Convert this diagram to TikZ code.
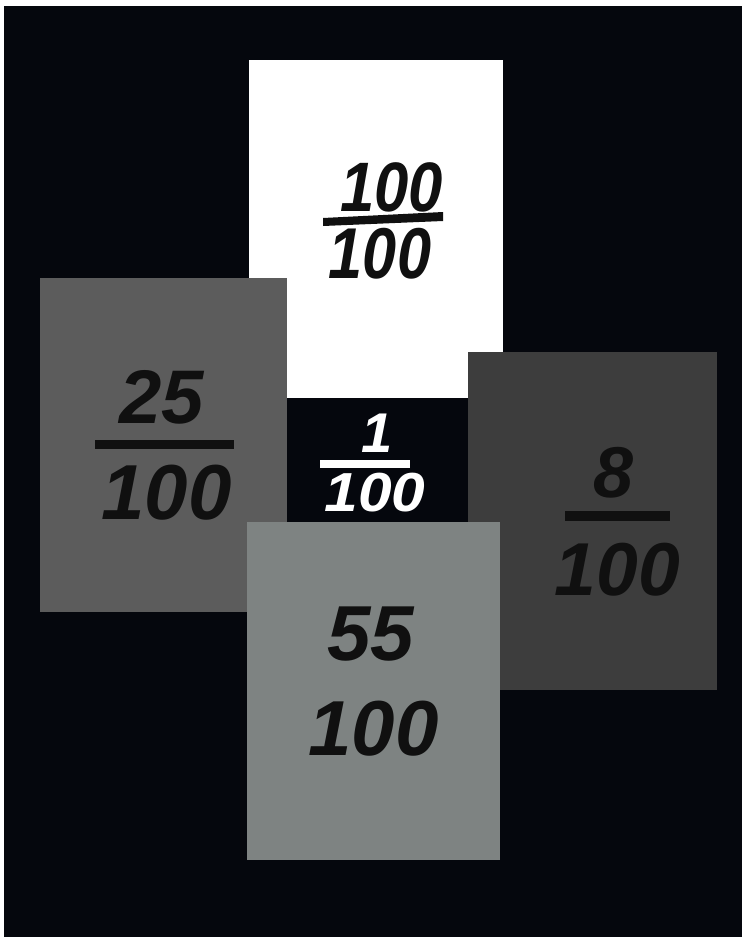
\documentclass[tikz,border=0pt]{standalone}
\usepackage{fontspec}
\setmainfont{Liberation Sans}
\usepackage{xcolor}

\definecolor{bgblack}{RGB}{5,7,13}
\definecolor{cardgray}{RGB}{92,92,92}
\definecolor{carddark}{RGB}{61,61,61}
\definecolor{cardlight}{RGB}{126,131,130}
\definecolor{inkblack}{RGB}{16,16,16}

\tikzset{
  card/.style={draw=none, inner sep=0pt, outer sep=0pt, anchor=north west},
  digits/.style={inner sep=0pt, text=inkblack, font=\fontsize{#1}{#1}\selectfont\bfseries\itshape},
}

\begin{document}
\begin{tikzpicture}[x=1pt, y=-1pt]

    % ==========================================
    % PAGE & BACKGROUND
    % ==========================================

    \useasboundingbox (0,0) rectangle (747,942);
    \fill[white] (0,0) rectangle (747,942);
    \fill[bgblack] (4,6) rectangle (742,937);

    % ==========================================
    % CARDS (back to front)
    % ==========================================

    % white card on top, partly hidden by the others
    \node[card, fill=white, minimum width=254pt, minimum height=340pt] (cardW) at (249,60) {};

    % left gray card
    \node[card, fill=cardgray, minimum width=247pt, minimum height=334pt] (cardL) at (40,278) {};

    % right dark card
    \node[card, fill=carddark, minimum width=249pt, minimum height=338pt] (cardR) at (468,352) {};

    % small black card in the middle
    \node[card, fill=bgblack, minimum width=181pt, minimum height=124pt] (cardB) at (287,398) {};

    % light card in front
    \node[card, fill=cardlight, minimum width=253pt, minimum height=338pt] (cardF) at (247,522) {};

    % ==========================================
    % NUMBERS
    % ==========================================

    % --- white card: hand written 100/100 ---
    \node[digits=70] (numWtop) at (391.5,187) {\scalebox{0.88}[1]{100}};
    \fill[inkblack] (323,218) -- (443,212) -- (443,221) -- (323,226) -- cycle;
    \node[digits=72] (numWbot) at (380,254) {\scalebox{0.85}[1]{100}};

    % --- black card: white 1/100 ---
    \node[digits=56, text=white] (numBtop) at (377.5,433) {1};
    \fill[white] (320,460) rectangle (410,468);
    \node[digits=55, text=white] (numBbot) at (375,492.5) {\scalebox{1.1}[1]{100}};

    % --- left card: 25/100 ---
    \node[digits=76] (numLtop) at (161.5,397.5) {25};
    \fill[inkblack] (95,440) rectangle (234,449);
    \node[digits=78] (numLbot) at (166.5,492.5) {100};

    % --- right card: 8/100 ---
    \node[digits=72] (numRtop) at (614,472.5) {8};
    \fill[inkblack] (565,511) rectangle (670,521);
    \node[digits=75] (numRbot) at (617.5,570) {100};

    % --- front card: 55 over 100, no bar ---
    \node[digits=78] (numFtop) at (370.5,634) {55};
    \node[digits=78] (numFbot) at (373.5,729) {100};

\end{tikzpicture}
\end{document}
